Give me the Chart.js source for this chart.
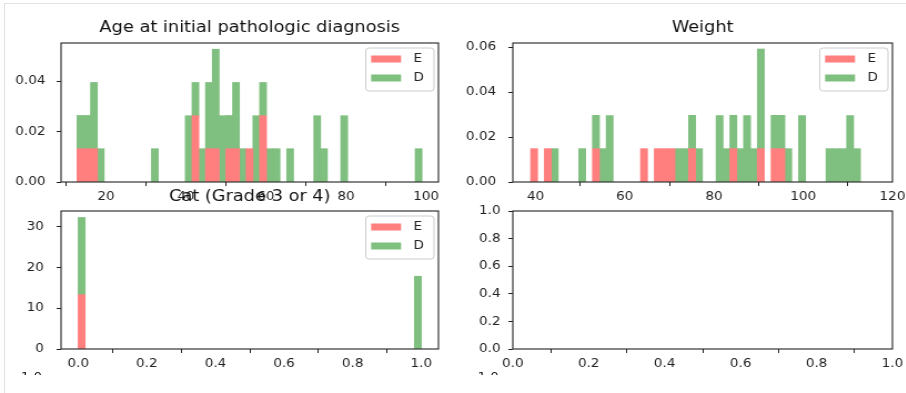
<!DOCTYPE html>
<html>
<head>
<meta charset="utf-8">
<script src="https://cdn.jsdelivr.net/npm/chart.js@4.4.0/dist/chart.umd.min.js"></script>
<style>
  html, body { margin: 0; padding: 0; background: #fff; }
  body { width: 906px; height: 393px; overflow: hidden; position: relative; font-family: "DejaVu Sans", sans-serif; }
  #edge { position: absolute; left: 4px; top: 3px; right: -2px; bottom: -2px; border-top: 1px solid #e2e2e2; border-left: 1px solid #e2e2e2; }
  /* the source picture is stretched sideways, so the whole figure is drawn narrower and scaled */
  #fig { position: absolute; left: 0; top: 0; width: 816px; height: 393px; transform: scaleX(1.11); transform-origin: 0 0; }
  #fig canvas { position: absolute; }
  .cut { position: absolute; top: 372px; width: 30px; height: 3px; overflow: hidden; text-align: right; font-size: 12.2px; line-height: 12.2px; color: #222; }
  .cut span { display: block; margin-top: -1.4px; }
</style>
</head>
<body>
<div id="edge"></div>
<div id="fig">
  <canvas id="age" width="414" height="209" style="left:0.5px;top:3px"></canvas>
  <canvas id="weight" width="416" height="209" style="left:407.5px;top:3px"></canvas>
  <canvas id="cat" width="414" height="208" style="left:0.5px;top:171px"></canvas>
  <canvas id="empty" width="416" height="208" style="left:407.5px;top:171px"></canvas>
  <div class="cut" style="left:8px"><span>1.0</span></div>
  <div class="cut" style="left:419.5px"><span>1.0</span></div>
</div>
<script>
// histogram bins, E = red, D = green (stacked, density)
var ageBinStart = 12.8, ageBinWidth = 1.69;
var ageE = [0.0132,0.0132,0.0132,0,0,0,0,0,0,0,
            0,0,0,0,0,0,0,0.0263,0,0.0132,
            0.0132,0,0.0132,0.0132,0,0.0132,0,0.0263,0,0,
            0,0,0,0,0,0,0,0,0,0,
            0,0,0,0,0,0,0,0,0,0,0];
var ageD = [0.0132,0.0132,0.0263,0.0132,0,0,0,0,0,0,
            0,0.0132,0,0,0,0,0.0263,0.0132,0.0132,0.0263,
            0.0395,0.0263,0.0132,0.0263,0.0132,0,0.0263,0.0132,0.0132,0.0132,
            0,0.0132,0,0,0,0.0263,0.0132,0,0,0.0263,
            0,0,0,0,0,0,0,0,0,0,0.0132];
var ageXTicks = [20, 40, 60, 80, 100];
var ageYTicks = [0, 0.02, 0.04];

var weightBinStart = 38.9, weightBinWidth = 1.54;
var weightE = [0.0148,0,0.0148,0,0,0,0,0,0,0.0148,
               0,0,0,0,0,0,0.0148,0,0.0148,0.0148,
               0.0148,0,0,0.0148,0,0,0,0,0,0.0148,
               0,0,0,0.0148,0,0.0148,0.0148,0,0,0,
               0,0,0,0,0,0,0,0];
var weightD = [0,0,0,0.0148,0,0,0,0.0148,0,0.0148,
               0.0148,0.0295,0,0,0,0,0,0,0,0,
               0,0.0148,0.0148,0.0148,0.0148,0,0,0.0295,0.0148,0.0148,
               0.0148,0.0295,0.0148,0.0443,0,0.0148,0.0148,0.0148,0,0.0295,
               0,0,0,0.0148,0.0148,0.0148,0.0295,0.0148];
var weightXTicks = [40, 60, 80, 100, 120];
var weightYTicks = [0, 0.02, 0.04, 0.06];

var catBinStart = 0, catBinWidth = 0.02;
var catE = [13.3,0,0,0,0,0,0,0,0,0, 0,0,0,0,0,0,0,0,0,0, 0,0,0,0,0,0,0,0,0,0, 0,0,0,0,0,0,0,0,0,0, 0,0,0,0,0,0,0,0,0,0];
var catD = [18.9,0,0,0,0,0,0,0,0,0, 0,0,0,0,0,0,0,0,0,0, 0,0,0,0,0,0,0,0,0,0, 0,0,0,0,0,0,0,0,0,0, 0,0,0,0,0,0,0,0,0,17.8];
var catXTicks = [0, 0.2, 0.4, 0.6, 0.8, 1.0];
var catYTicks = [0, 10, 20, 30];

var emptyTicks = [0, 0.2, 0.4, 0.6, 0.8, 1.0];

var FONT = '"DejaVu Sans", sans-serif';
var TICK_SIZE = 12.2;
var RED = '#ff7f7f';    // red at alpha 0.5 on white
var GREEN = '#7fbf7f';  // green at alpha 0.5 on white
var INK = '#222';

function toPoints(vals, start, width) {
  return vals.map(function (v, i) { return {x: start + (i + 0.5) * width, y: v}; });
}

// axes box like matplotlib spines
var framePlugin = {
  id: 'frame',
  afterDatasetsDraw: function (chart) {
    var a = chart.chartArea, ctx = chart.ctx;
    ctx.save();
    ctx.strokeStyle = INK;
    ctx.lineWidth = 1.1;
    ctx.strokeRect(a.left, a.top, a.right - a.left, a.bottom - a.top);
    ctx.restore();
  }
};

// legend box in the upper right corner of the axes
var legendPlugin = {
  id: 'boxLegend',
  afterDraw: function (chart) {
    var ds = chart.data.datasets;
    if (!ds.length) return;
    var a = chart.chartArea, ctx = chart.ctx;
    var w = 61.5, h = 43, x = a.right - 4 - w, y = a.top + 5;
    ctx.save();
    ctx.fillStyle = 'rgba(255,255,255,0.8)';
    ctx.strokeStyle = '#cccccc';
    ctx.lineWidth = 1;
    ctx.beginPath();
    ctx.roundRect(x, y, w, h, 3);
    ctx.fill();
    ctx.stroke();
    ctx.font = TICK_SIZE + 'px ' + FONT;
    ctx.textBaseline = 'middle';
    for (var i = 0; i < ds.length; i++) {
      var cy = y + 11 + i * 19;
      ctx.fillStyle = ds[i].backgroundColor;
      ctx.fillRect(x + 4.8, cy - 3.5, 27, 7);
      ctx.fillStyle = INK;
      ctx.fillText(ds[i].label, x + 43, cy);
    }
    ctx.restore();
  }
};

function axis(min, max, ticks, dec, isX, pad) {
  return {
    type: 'linear', min: min, max: max, offset: false, stacked: true,
    grid: {display: true, drawOnChartArea: false, drawTicks: true, tickLength: 4, color: INK, tickColor: INK},
    border: {display: false},
    ticks: {autoSkip: false, maxRotation: 0, padding: pad, color: INK,
      font: {family: FONT, size: TICK_SIZE},
      callback: function (v) { return Number(v).toFixed(dec); }},
    afterBuildTicks: function (s) { s.ticks = ticks.map(function (v) { return {value: v}; }); },
    afterFit: function (s) {
      if (isX) { s.height = 30; s.paddingLeft = 0; s.paddingRight = 0; }
      else { s.width = 54; s.paddingTop = 0; s.paddingBottom = 0; }
    }
  };
}

function barSet(label, vals, o, color) {
  return {label: label, data: toPoints(vals, o.start, o.width), backgroundColor: color,
    borderWidth: 0, barPercentage: 1, categoryPercentage: 1,
    // grow filled bars a hair so neighbours meet without seams; empty bins stay invisible
    inflateAmount: function (c) { return c.raw && c.raw.y ? 0.4 : 0; }};
}

function makeChart(id, o) {
  var datasets = [];
  if (o.e) {
    datasets.push(barSet('E', o.e, o, RED));
    datasets.push(barSet('D', o.d, o, GREEN));
  }
  new Chart(document.getElementById(id), {
    type: 'bar',
    data: {datasets: datasets},
    options: {
      responsive: false, animation: false, devicePixelRatio: 1,
      layout: {padding: {left: 0, top: o.title ? 0 : 40, right: 20, bottom: 0}},
      plugins: {
        legend: {display: false},
        tooltip: {enabled: false},
        title: {display: !!o.title, text: o.title, fullSize: false, color: '#111',
          font: {family: FONT, size: 16, weight: 'normal', lineHeight: 1.2},
          padding: {top: o.tpad, bottom: 40 - 19.2 - o.tpad}}
      },
      scales: {
        x: axis(o.xMin, o.xMax, o.xTicks, o.xDec, true, 3.6),
        y: axis(o.yMin, o.yMax, o.yTicks, o.yDec, false, o.ypad)
      }
    },
    plugins: [framePlugin, legendPlugin]
  });
}

makeChart('age', {title: 'Age at initial pathologic diagnosis', tpad: 15.1, ypad: 10,
  e: ageE, d: ageD, start: ageBinStart, width: ageBinWidth,
  xMin: 8.8, xMax: 103.1, xTicks: ageXTicks, xDec: 0,
  yMin: 0, yMax: 0.0552, yTicks: ageYTicks, yDec: 2});

makeChart('weight', {title: 'Weight', tpad: 15.1, ypad: 11,
  e: weightE, d: weightD, start: weightBinStart, width: weightBinWidth,
  xMin: 34.9, xMax: 120, xTicks: weightXTicks, xDec: 0,
  yMin: 0, yMax: 0.0618, yTicks: weightYTicks, yDec: 2});

makeChart('cat', {title: 'Cat (Grade 3 or 4)', tpad: 16.4, ypad: 11.5,
  e: catE, d: catD, start: catBinStart, width: catBinWidth,
  xMin: -0.05, xMax: 1.05, xTicks: catXTicks, xDec: 1,
  yMin: 0, yMax: 33.8, yTicks: catYTicks, yDec: 0});

makeChart('empty', {title: '', ypad: 7,
  xMin: 0, xMax: 1, xTicks: emptyTicks, xDec: 1,
  yMin: 0, yMax: 1, yTicks: emptyTicks, yDec: 1});
</script>
</body>
</html>
